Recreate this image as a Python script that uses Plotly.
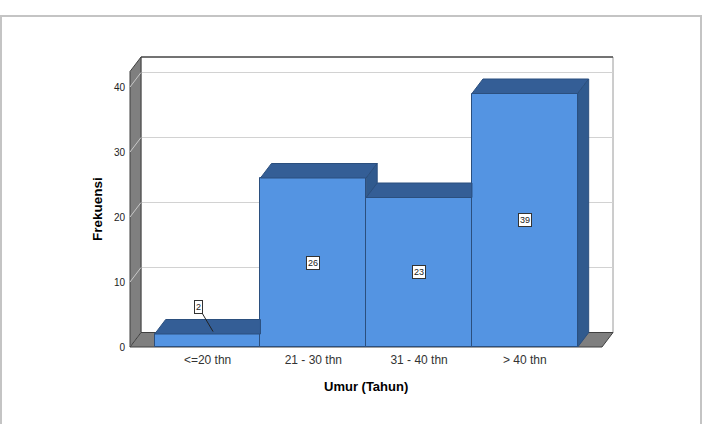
import plotly.graph_objects as go

# ---------------- data ----------------
categories = ["<=20 thn", "21 - 30 thn", "31 - 40 thn", "> 40 thn"]
frekuensi = [2, 26, 23, 39]
y_tick_values = [0, 10, 20, 30, 40]
x_title = "Umur (Tahun)"
y_title = "Frekuensi"

# ---------------- geometry / style ----------------
W, H = 705, 424
PX_PER_CAT = 105.75      # pixels per category unit
PX_PER_VAL = 6.5         # pixels per count unit
FRONT_LEFT_PX, BACK_RIGHT_PX = 130, 613
FLOOR_PX, TOP_PX = 347, 57
PAD = 4

X0 = -0.5 - (154.7 - FRONT_LEFT_PX) / PX_PER_CAT          # front-left wall edge (data)
X1 = X0 + (BACK_RIGHT_PX - FRONT_LEFT_PX) / PX_PER_CAT     # back-right wall edge (data)
YTOP = (FLOOR_PX - TOP_PX) / PX_PER_VAL                     # top of back wall (data)
DX = 11 / PX_PER_CAT                                        # depth offset x (data)
DY = 14.5 / PX_PER_VAL                                      # depth offset y (data)

ML = FRONT_LEFT_PX - PAD
MR = W - (BACK_RIGHT_PX + PAD)
MT = TOP_PX - PAD
MB = H - (FLOOR_PX + PAD)
x_range = [X0 - PAD / PX_PER_CAT, X1 + PAD / PX_PER_CAT]
y_range = [-PAD / PX_PER_VAL, YTOP + PAD / PX_PER_VAL]

FRONT = "#5494E2"
TOP = "#345E96"
SIDE = "#305A8E"
EDGE = "#2B4F7E"
WALL = "#7F7F7F"
WALL_EDGE = "#404040"
FONT = "Liberation Sans, Arial, sans-serif"

idx = list(range(len(categories)))

fig = go.Figure()

# front faces
fig.add_trace(go.Bar(
    x=idx, y=frekuensi, width=1,
    marker=dict(color=FRONT, line=dict(color=EDGE, width=1)),
    showlegend=False, hovertext=categories, hoverinfo="text+y",
))

# top and side faces (3D effect), clipped where the next bar's front covers them
for i, v in enumerate(frekuensi):
    L, R = i - 0.5, i + 0.5
    v_next = frekuensi[i + 1] if i + 1 < len(frekuensi) else None
    if v_next is not None and v_next >= v + DY:
        tx = [L, R, R, L + DX, L]
        ty = [v, v, v + DY, v + DY, v]
    elif v_next is not None and v_next > v:
        h = v_next
        tx = [L, R, R, R + (h - v) / DY * DX, R + DX, L + DX, L]
        ty = [v, v, h, h, v + DY, v + DY, v]
    else:
        tx = [L, R, R + DX, L + DX, L]
        ty = [v, v, v + DY, v + DY, v]
    fig.add_trace(go.Scatter(x=tx, y=ty, mode="lines", fill="toself",
                             fillcolor=TOP, line=dict(color=EDGE, width=1),
                             hoverinfo="skip", showlegend=False))
    if v_next is None or v_next < v:
        lo0 = 0 if v_next is None else v_next
        lo1 = DY if v_next is None else max(v_next, DY)
        sx = [R, R, R + DX, R + DX, R]
        sy = [lo0, v, v + DY, lo1, lo0]
        fig.add_trace(go.Scatter(x=sx, y=sy, mode="lines", fill="toself",
                                 fillcolor=SIDE, line=dict(color=EDGE, width=1),
                                 hoverinfo="skip", showlegend=False))

shapes = []
pw = W - ML - MR
ph = H - MT - MB
# outer frame
shapes.append(dict(type="rect", xref="paper", yref="paper", layer="below",
                   x0=(1 - ML) / pw, x1=(701 - ML) / pw,
                   y0=(H - MB - 432) / ph, y1=(H - MB - 16) / ph,
                   line=dict(color="#C4C4C4", width=2), fillcolor="rgba(0,0,0,0)"))
# back wall
shapes.append(dict(type="rect", xref="x", yref="y", layer="below",
                   x0=X0 + DX, x1=X1, y0=DY, y1=YTOP,
                   fillcolor="white", line=dict(color="#9A9A9A", width=1)))
shapes.append(dict(type="line", xref="x", yref="y", layer="below",
                   x0=X0 + DX, x1=X1, y0=YTOP, y1=YTOP,
                   line=dict(color="#555555", width=1.5)))
# back-wall gridlines
for t in y_tick_values[1:]:
    shapes.append(dict(type="line", xref="x", yref="y", layer="below",
                       x0=X0 + DX, x1=X1, y0=t + DY, y1=t + DY,
                       line=dict(color="#D2D2D2", width=1.2)))
# left wall
shapes.append(dict(type="path", xref="x", yref="y", layer="below",
                   path=f"M {X0},0 L {X0},{YTOP - DY} L {X0 + DX},{YTOP} L {X0 + DX},{DY} Z",
                   fillcolor=WALL, line=dict(color=WALL_EDGE, width=1)))
for t in y_tick_values:
    shapes.append(dict(type="line", xref="x", yref="y", layer="below",
                       x0=X0, x1=X0 + DX, y0=t, y1=t + DY,
                       line=dict(color="#C8C8C8", width=1)))
# floor
shapes.append(dict(type="path", xref="x", yref="y", layer="below",
                   path=f"M {X0},0 L {X1 - DX},0 L {X1},{DY} L {X0 + DX},{DY} Z",
                   fillcolor=WALL, line=dict(color=WALL_EDGE, width=1)))

annotations = []
for i, v in enumerate(frekuensi):
    if v * PX_PER_VAL >= 20:
        annotations.append(dict(x=i, y=v / 2, xref="x", yref="y", text=str(v),
                                showarrow=False, bgcolor="white",
                                bordercolor="#333333", borderwidth=1, borderpad=1,
                                font=dict(family=FONT, size=9, color="#222222")))
    else:
        annotations.append(dict(x=i + DX / 2, y=v + DY / 6, xref="x", yref="y",
                                text=str(v), showarrow=True, arrowhead=0,
                                arrowwidth=1, arrowcolor="#222222",
                                ax=-14.5, ay=-24.5, bgcolor="white",
                                bordercolor="#333333", borderwidth=1, borderpad=1,
                                font=dict(family=FONT, size=9, color="#222222")))

annotations.append(dict(xref="paper", yref="paper",
                        x=(366 - ML) / pw, y=(H - MB - 386) / ph,
                        xanchor="center", yanchor="middle",
                        text=f"<b>{x_title}</b>", showarrow=False,
                        font=dict(family=FONT, size=13, color="black")))
annotations.append(dict(xref="paper", yref="paper",
                        x=(97 - ML) / pw, y=(H - MB - 209) / ph,
                        xanchor="center", yanchor="middle",
                        text=f"<b>{y_title}</b>", showarrow=False, textangle=-90,
                        font=dict(family=FONT, size=13.5, color="black")))

fig.update_layout(
    width=W, height=H,
    margin=dict(l=ML, r=MR, t=MT, b=MB, pad=0),
    paper_bgcolor="white", plot_bgcolor="white",
    shapes=shapes, annotations=annotations,
    bargap=0, showlegend=False,
    xaxis=dict(range=x_range, tickvals=idx, ticktext=categories,
               showgrid=False, zeroline=False, showline=False, ticks="",
               tickfont=dict(family=FONT, size=12, color="#333333"),
               fixedrange=True),
    yaxis=dict(range=y_range, tickvals=y_tick_values,
               showgrid=False, zeroline=False, showline=False, ticks="",
               tickfont=dict(family=FONT, size=10, color="#222222"),
               fixedrange=True),
)

fig.write_html("out.html")
